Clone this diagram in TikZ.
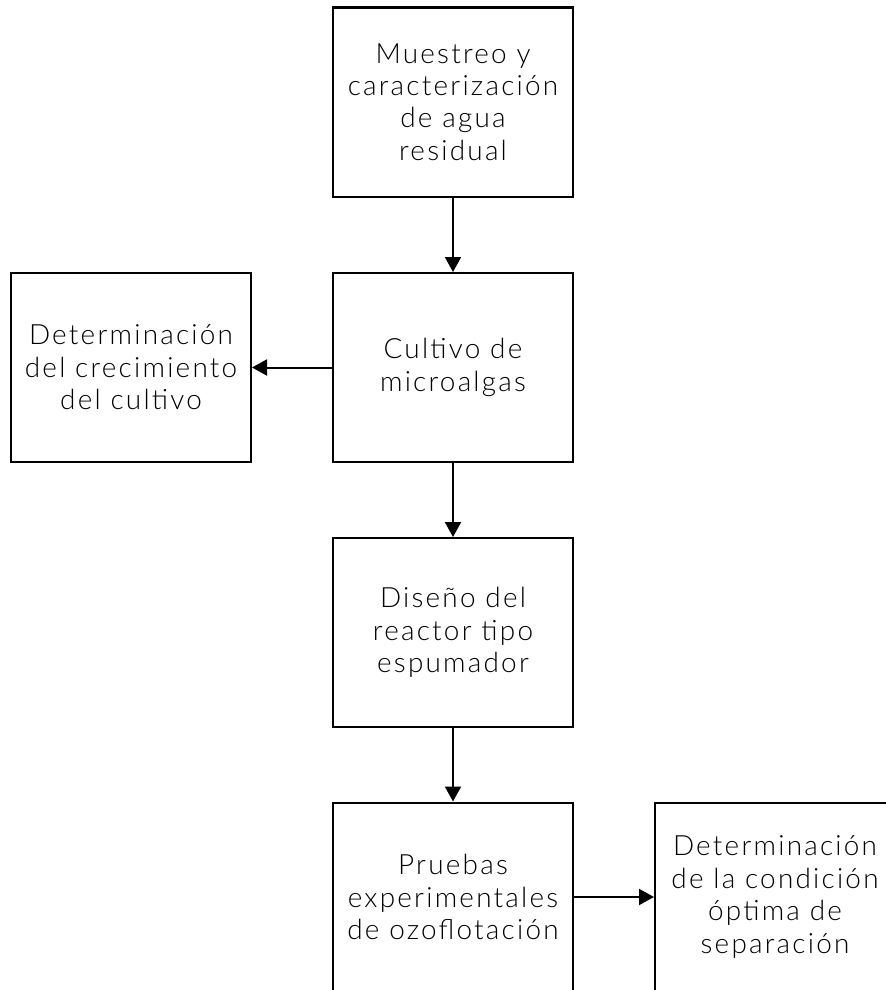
\documentclass[tikz,border=0pt]{standalone}
\usepackage{fontspec}
\setmainfont{Lato}[UprightFont={* Light},LetterSpace=8]
\usetikzlibrary{arrows.meta}
\begin{document}
\begin{tikzpicture}[x=1bp,y=-1bp,
  box/.style={draw=black, line width=2bp, minimum width=240bp, minimum height=189bp,
    align=center, inner sep=0pt, font=\fontsize{28}{32.5}\selectfont},
  conn/.style={line width=2bp, -{Triangle[length=15bp,width=16bp]}}]
\useasboundingbox (0,0) rectangle (886,990);
\clip (0,0) rectangle (886,990);
\node[box] (a) at (453,102) {Muestreo y\\caracterización\\de agua\\residual};
\node[box] (b) at (453,367.5) {Cultivo de\\microalgas};
\node[box] (l) at (131,367.5) {Determinación\\del crecimiento\\del cultivo};
\node[box] (c) at (453,632.5) {Diseño del\\reactor tipo\\espumador};
\node[box] (d) at (453,897) {Pruebas\\experimentales\\de ozoflotación};
\node[box] (r) at (775,897) {Determinación\\de la condición\\óptima de\\separación};
\draw[conn] (a) -- (b);
\draw[conn] (b) -- (l);
\draw[conn] (b) -- (c);
\draw[conn] (c) -- (d);
\draw[conn] (d) -- (r);
\end{tikzpicture}
\end{document}
